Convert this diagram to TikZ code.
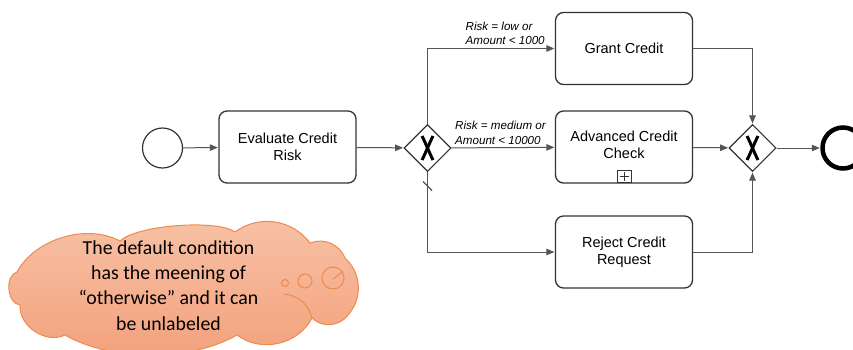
\documentclass[tikz,border=0pt]{standalone}
\usepackage{fontspec}
\setmainfont{Liberation Sans}
\newfontfamily\calloutfont{Carlito}
\usetikzlibrary{arrows.meta,shapes.geometric}
\definecolor{edge}{HTML}{333333}
\definecolor{flow}{HTML}{555555}
\definecolor{cloudtop}{HTML}{F7C2A6}
\definecolor{cloudbot}{HTML}{F3A07C}
\definecolor{cloudline}{HTML}{EE8A4E}
\tikzset{
  task/.style={draw=edge, line width=1.3pt, rounded corners=8pt, minimum width=137pt,
    minimum height=72pt, align=center, inner sep=0pt,
    font=\fontsize{14.5}{17}\selectfont},
  tasktext/.style={align=center, inner sep=0pt, font=\fontsize{14.5}{17}\selectfont},
  gateway/.style={diamond, draw=edge, line width=1.1pt, minimum width=47pt,
    minimum height=47pt, inner sep=0pt},
  xmark/.style={line width=3pt, black},
  flowline/.style={draw=flow, line width=1pt, -{Triangle[length=8pt,width=6.5pt]},
    shorten >=0.5pt},
  cond/.style={anchor=base west, inner sep=0pt,
    font=\fontsize{11.6}{14.3}\selectfont\itshape},
  bubble/.style={draw=cloudline, line width=1pt},
}
\begin{document}
\begin{tikzpicture}[x=1pt, y=-1pt]
\useasboundingbox (0,0) rectangle (853,349);

% events
\node[circle, draw=edge, line width=1.2pt, minimum size=40pt, inner sep=0pt] (start) at (162.5,148) {};
\node[circle, draw=black, line width=4.5pt, minimum size=41pt, inner sep=0pt] (end) at (843,148) {};

% tasks
\node[task] (eval) at (287.5,147) {Evaluate Credit\\Risk};
\node[task] (grant) at (624,48.5) {Grant Credit};
\node[task] (adv) at (624,147) {};
\node[tasktext] (advtxt) at (624,144.5) {Advanced Credit\\Check};
\node[draw=edge, line width=0.9pt, minimum width=14pt, minimum height=12.5pt, inner sep=0pt,
  anchor=south] (sub) at (624,183) {};
\draw[edge, line width=0.9pt] ([xshift=-4.5pt]sub.center) -- ([xshift=4.5pt]sub.center)
  ([yshift=-4.5pt]sub.center) -- ([yshift=4.5pt]sub.center);
\node[task] (reject) at (624,252) {Reject Credit\\Request};

% gateways
\node[gateway] (split) at (427.5,148) {};
\node[gateway] (merge) at (752.5,148) {};
\foreach \g in {split,merge}{
  \draw[xmark] ([shift={(-5.5,-12)}]\g.center) .. controls ([shift={(-1,-3)}]\g.center) and ([shift={(1,3)}]\g.center) .. ([shift={(5.5,12)}]\g.center);
  \draw[xmark] ([shift={(5.5,-12)}]\g.center) .. controls ([shift={(1,-3)}]\g.center) and ([shift={(-1,3)}]\g.center) .. ([shift={(-5.5,12)}]\g.center);
}

% sequence flows
\draw[flowline] (start) -- (eval);
\draw[flowline] (eval) -- (split);
\draw[flowline] (split.north) |- (grant.west);
\draw[flowline] (split) -- (adv);
\draw[flowline] (split.south) |- (reject.west);
\draw[flowline] (grant.east) -| (merge.north);
\draw[flowline] (adv) -- (merge);
\draw[flowline] (reject.east) -| (merge.south);
\draw[flowline] (merge) -- (end);

% default flow marker
\coordinate (dflt) at (427.5,186);
\draw[flow, line width=1.1pt] ([shift={(-4.5,-4.5)}]dflt) -- ([shift={(4.5,4.5)}]dflt);

% conditions
\node[cond] (c1a) at (465.5,30) {Risk = low or};
\node[cond] (c1b) at (465.5,44.3) {Amount < 1000};
\node[cond] (c2a) at (455,129.3) {Risk = medium or};
\node[cond] (c2b) at (455,144) {Amount < 10000};

% callout cloud
\path[bubble, top color=cloudtop, bottom color=cloudbot]
  (20,305) to[bend left=80] (17,272)
  to[bend left=45, looseness=0.9] (120,241)
  to[bend left=40, looseness=0.5] (235,232)
  to[bend left=45] (310,243)
  to[bend left=45] (345,258)
  to[bend left=45] (348,315)
  to[bend left=50] (312,318)
  to[bend left=50] (237,335)
  to[bend left=30, looseness=0.8] (65,335)
  to[bend left=60] cycle;
\draw[bubble] (284,294) to[bend left=35] (312,318);
\draw[bubble] (333,279) -- (343,271.5);
\node[circle, bubble, minimum size=7pt, inner sep=0pt] (b1) at (285,283) {};
\node[circle, bubble, minimum size=14pt, inner sep=0pt] (b2) at (305,281) {};
\node[circle, bubble, minimum size=22pt, inner sep=0pt] (b3) at (333,278) {};
\node[align=center, inner sep=0pt, anchor=base, font=\calloutfont\fontsize{19.8}{25.3}\selectfont]
  (note) at (168.5,330.2) {The default condition\\has the meening of\\“otherwise” and it can\\be unlabeled};
\end{tikzpicture}
\end{document}
